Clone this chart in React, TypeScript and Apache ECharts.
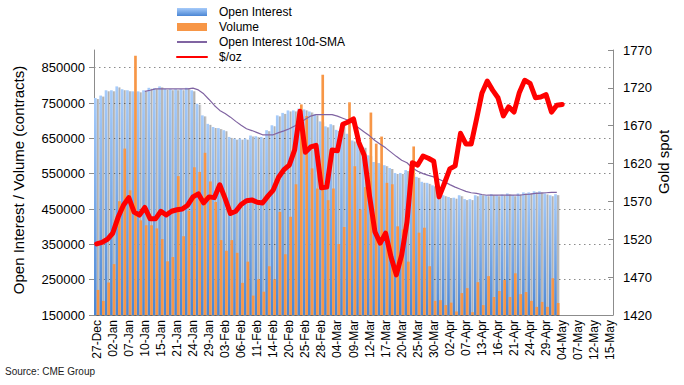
import React, { useEffect, useRef } from "react";
import * as echarts from "echarts";

const CATEGORIES = [
  "27-Dec","30-Dec","31-Dec","02-Jan","03-Jan","06-Jan","07-Jan","08-Jan","09-Jan","10-Jan",
  "13-Jan","14-Jan","15-Jan","16-Jan","17-Jan","21-Jan","22-Jan","23-Jan","24-Jan","27-Jan",
  "28-Jan","29-Jan","30-Jan","31-Jan","03-Feb","04-Feb","05-Feb","06-Feb","07-Feb","10-Feb",
  "11-Feb","12-Feb","13-Feb","14-Feb","18-Feb","19-Feb","20-Feb","21-Feb","24-Feb","25-Feb",
  "26-Feb","27-Feb","28-Feb","02-Mar","03-Mar","04-Mar","05-Mar","06-Mar","09-Mar","10-Mar",
  "11-Mar","12-Mar","13-Mar","16-Mar","17-Mar","18-Mar","19-Mar","20-Mar","23-Mar","24-Mar",
  "25-Mar","26-Mar","27-Mar","30-Mar","31-Mar","01-Apr","02-Apr","03-Apr","06-Apr","07-Apr",
  "08-Apr","09-Apr","13-Apr","14-Apr","15-Apr","16-Apr","17-Apr","20-Apr","21-Apr","22-Apr",
  "23-Apr","24-Apr","27-Apr","28-Apr","29-Apr","30-Apr","01-May","04-May","05-May","06-May",
  "07-May","08-May","11-May","12-May","13-May","14-May","15-May"
];

// thousands of contracts
const OPEN_INTEREST_K = [
  764, 771, 786, 786, 797, 789, 786, 783, 783, 786,
  793, 792, 797, 790, 789, 789, 789, 793, 786, 748,
  715, 691, 682, 679, 673, 654, 649, 649, 649, 658,
  656, 654, 673, 687, 715, 722, 729, 729, 734, 732,
  726, 718, 698, 684, 690, 674, 691, 663, 644, 635,
  626, 602, 583, 580, 574, 566, 552, 552, 560, 555,
  541, 527, 524, 517, 492, 489, 484, 482, 489, 478,
  478, 489, 492, 489, 492, 489, 491, 494, 489, 494,
  497, 497, 500, 500, 494, 489, 492
];

const VOLUME_K = [
  221, 190, 242, 294, 472, 621, 503, 884, 418, 404,
  404, 395, 365, 302, 314, 543, 373, 445, 568, 555,
  609, 528, 470, 362, 332, 362, 326, 241, 301, 205,
  251, 216, 288, 251, 442, 322, 428, 520, 746, 713,
  565, 508, 830, 475, 508, 351, 399, 752, 571, 449,
  512, 723, 635, 655, 524, 520, 401, 392, 301, 627,
  383, 397, 288, 190, 192, 178, 185, 160, 212, 226,
  158, 243, 178, 260, 201, 218, 249, 201, 268, 209,
  215, 190, 173, 187, 173, 254, 184
];

const OI_SMA_K = [
  null, null, null, null, null, null, null, null, null, 783,
  786, 790, 790, 790, 790, 790, 790, 790, 792, 787,
  776, 760, 743, 729, 720, 710, 698, 687, 677, 672,
  666, 660, 660, 660, 666, 671, 677, 685, 694, 704,
  713, 717, 717, 717, 717, 713, 707, 701, 691, 679,
  668, 657, 644, 633, 623, 611, 599, 588, 581, 566,
  557, 550, 545, 541, 534, 527, 519, 512, 506, 500,
  496, 494, 491, 489, 489, 489, 489, 489, 489, 489,
  491, 492, 494, 495, 496, 497, 497
];

const GOLD_USD = [
  1514, 1516, 1520, 1528, 1549, 1565, 1575, 1556, 1552, 1562,
  1547, 1547, 1557, 1552, 1557, 1559, 1560, 1565, 1576, 1580,
  1568, 1576, 1575, 1592, 1574, 1554, 1557, 1566, 1571, 1572,
  1569, 1568, 1577, 1585, 1602, 1612, 1618, 1638, 1689, 1635,
  1642, 1644, 1588, 1589, 1638, 1637, 1672, 1675, 1679, 1648,
  1631, 1577, 1530, 1515, 1528, 1497, 1473, 1499, 1543, 1621,
  1618, 1630, 1627, 1623, 1576, 1594, 1613, 1617, 1660, 1646,
  1646, 1679, 1713, 1729, 1717, 1707, 1683, 1695, 1688, 1714,
  1730, 1726, 1707, 1708, 1711, 1688, 1697, 1698
];

const LEFT_AXIS = { min: 150000, max: 900000, interval: 100000 };
const RIGHT_AXIS = { min: 1420, max: 1770, interval: 50 };

const FONT = "'Liberation Sans', Arial, Helvetica, sans-serif";

export default function App() {
  const ref = useRef<HTMLDivElement>(null);

  useEffect(() => {
    if (!ref.current) return;
    const chart = echarts.init(ref.current, undefined, { renderer: "svg" });
    const toUnits = (v: number | null) => (v == null ? null : v * 1000);

    const blueGrad = new echarts.graphic.LinearGradient(0, 0, 0, 1, [
      { offset: 0, color: "#a6cbfa" },
      { offset: 1, color: "#4a86d4" },
    ]);

    const axisGrey = "#8c8c8c";
    const plain = (v: number) => String(v);

    chart.setOption({
      animation: false,
      textStyle: { fontFamily: FONT },
      grid: { left: 94, right: 71, top: 50, bottom: 70, containLabel: false },
      legend: {
        orient: "vertical",
        left: 171,
        top: 1,
        itemWidth: 30,
        itemHeight: 8,
        itemGap: 3,
        textStyle: { fontSize: 12, color: "#000", fontFamily: FONT, padding: [0, 0, 0, 7] },
        data: [
          { name: "Open Interest", icon: "rect" },
          { name: "Volume", icon: "rect" },
          { name: "Open Interest 10d-SMA", itemStyle: { opacity: 0 } },
          { name: "$/oz", itemStyle: { opacity: 0 } },
        ],
      },
      xAxis: {
        type: "category",
        data: CATEGORIES,
        boundaryGap: true,
        axisLine: { lineStyle: { color: axisGrey } },
        axisTick: { interval: 0, length: 4, lineStyle: { color: axisGrey } },
        axisLabel: { interval: 2, rotate: 90, fontSize: 12, color: "#000", margin: 5, fontFamily: FONT },
        splitLine: { show: false },
      },
      yAxis: [
        {
          type: "value",
          position: "left",
          min: LEFT_AXIS.min,
          max: LEFT_AXIS.max,
          interval: LEFT_AXIS.interval,
          axisLine: { show: true, lineStyle: { color: axisGrey } },
          axisTick: { show: true, length: 5, lineStyle: { color: axisGrey } },
          axisLabel: { showMaxLabel: false, fontSize: 13, color: "#000", margin: 9, fontFamily: FONT, formatter: plain },
          splitLine: {
            show: true,
            showMaxLine: false,
            showMinLine: false,
            lineStyle: { type: [1.5, 3.5], color: "#8a8a8a", width: 1 },
          },
        },
        {
          type: "value",
          position: "right",
          min: RIGHT_AXIS.min,
          max: RIGHT_AXIS.max,
          interval: RIGHT_AXIS.interval,
          axisLine: { show: true, lineStyle: { color: axisGrey } },
          axisTick: { show: true, inside: true, length: 5, lineStyle: { color: axisGrey } },
          axisLabel: { fontSize: 13, color: "#000", margin: 10, fontFamily: FONT, formatter: plain },
          splitLine: { show: false },
        },
      ],
      series: [
        {
          name: "Open Interest",
          type: "bar",
          data: OPEN_INTEREST_K.map(toUnits),
          barGap: "0%",
          barCategoryGap: "0%",
          itemStyle: {
            color: blueGrad,
            shadowColor: "rgba(0,0,0,0.3)",
            shadowOffsetX: 2.4,
            shadowOffsetY: 1,
            shadowBlur: 1,
          },
        },
        {
          name: "Volume",
          type: "bar",
          data: VOLUME_K.map(toUnits),
          barGap: "0%",
          barCategoryGap: "0%",
          itemStyle: { color: "#f79646" },
        },
        {
          name: "Open Interest 10d-SMA",
          type: "line",
          data: OI_SMA_K.map(toUnits),
          symbol: "none",
          lineStyle: { color: "#8064a2", width: 1.2 },
          itemStyle: { color: "#8064a2" },
        },
        {
          name: "$/oz",
          type: "line",
          yAxisIndex: 1,
          data: GOLD_USD,
          symbol: "none",
          lineStyle: { color: "#ff0000", width: 5, join: "round", cap: "round" },
          itemStyle: { color: "#ff0000" },
        },
      ],
      graphic: [
        {
          type: "text",
          x: 18,
          y: 180,
          rotation: Math.PI / 2,
          style: {
            text: "Open Interest / Volume (contracts)",
            fontSize: 15,
            fontFamily: FONT,
            fill: "#000",
            align: "center",
            verticalAlign: "middle",
          },
        },
        {
          type: "text",
          x: 663,
          y: 162,
          rotation: Math.PI / 2,
          style: {
            text: "Gold spot",
            fontSize: 15,
            fontFamily: FONT,
            fill: "#000",
            align: "center",
            verticalAlign: "middle",
          },
        },
        {
          type: "text",
          x: 5,
          y: 371,
          style: {
            text: "Source: CME Group",
            fontSize: 10,
            fontFamily: FONT,
            fill: "#222",
            align: "left",
            verticalAlign: "middle",
          },
        },
      ],
    });

    return () => chart.dispose();
  }, []);

  return (
    <div
      ref={ref}
      style={{ position: "absolute", left: 0, top: 0, width: 684, height: 385, background: "#fff" }}
    />
  );
}
